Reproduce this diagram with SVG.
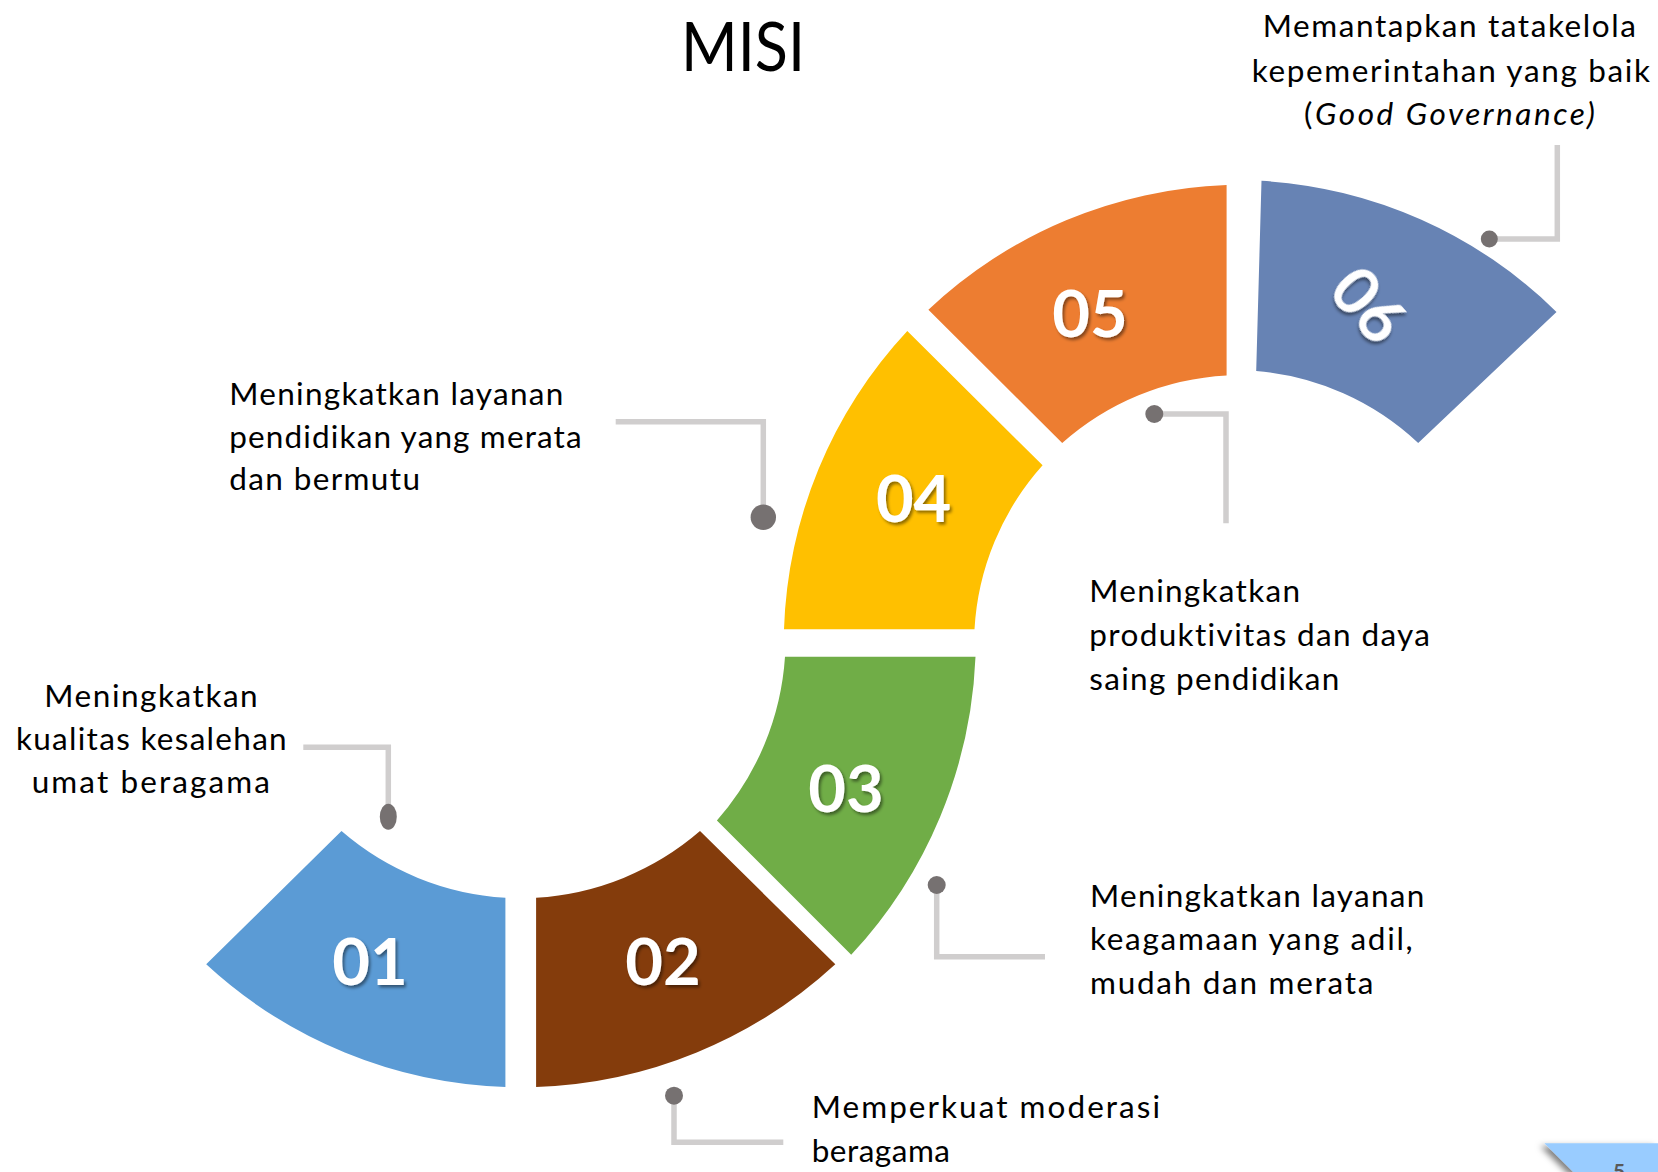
<svg xmlns="http://www.w3.org/2000/svg" width="1658" height="1172" viewBox="0 0 1658 1172">
<style>
.num{font-family:Lato,"Open Sans","Liberation Sans",sans-serif;font-weight:700;font-size:65px;fill:#fff;text-anchor:middle;filter:url(#ts)}
.lbl{font-family:Lato,"Open Sans","Liberation Sans",sans-serif;font-size:31.5px;fill:#000;font-variant-ligatures:none}
.ctr{text-anchor:middle}
.conn{fill:none;stroke:#D0CECE;stroke-width:5.5}
.dot{fill:#767171}
.title{font-family:Lato,"Open Sans","Liberation Sans",sans-serif;font-size:67px;fill:#000;text-anchor:middle}
</style>
<defs>
<filter id="ts" x="-20%" y="-20%" width="140%" height="140%">
<feDropShadow dx="2" dy="2.5" stdDeviation="1.5" flood-color="#000" flood-opacity="0.45"/>
</filter>
<filter id="bs" x="-20%" y="-50%" width="140%" height="200%">
<feDropShadow dx="-4" dy="3" stdDeviation="3" flood-color="#000" flood-opacity="0.5"/>
</filter>
</defs>
<rect width="1658" height="1172" fill="#fff"/>
<text class="title" x="743" y="70.7" textLength="124" lengthAdjust="spacingAndGlyphs">MISI</text>

<g id="n01">
<path d="M341.5,831.1 A275.5,275.5 0 0 0 505.4,897.7 L505.4,1087 A464.7,464.7 0 0 1 206.2,964.3 Z" fill="#5B9BD5"/>
<text class="num" x="370" y="985">01</text>
</g>
<g id="n02">
<path d="M536.1,897.7 A275.5,275.5 0 0 0 700,831.1 L835.3,964.3 A464.7,464.7 0 0 1 536.1,1087 Z" fill="#843C0C"/>
<text class="num" x="663" y="985">02</text>
</g>
<g id="n03">
<path d="M716.9,820.5 A275.5,275.5 0 0 0 785,656.7 L975.5,656.7 A464.7,464.7 0 0 1 851.2,954.8 Z" fill="#70AD47"/>
<text class="num" x="846" y="812">03</text>
</g>
<g id="n04">
<path d="M784,629.3 A458.9,458.9 0 0 1 907.3,331 L1042.6,465.3 A268.6,268.6 0 0 0 974.5,629.3 Z" fill="#FFC000"/>
<text class="num" x="913.6" y="522">04</text>
</g>
<g id="n05">
<path d="M928.4,309.8 A458.9,458.9 0 0 1 1226.6,185 L1226.6,375.4 A268.6,268.6 0 0 0 1062.2,443 Z" fill="#ED7D31"/>
<text class="num" x="1090" y="337">05</text>
</g>
<g id="n06">
<path d="M1261.5,180.8 A458.9,458.9 0 0 1 1556.5,311.9 L1418.2,443 A268.6,268.6 0 0 0 1256.2,371.1 Z" fill="#6783B4"/>
<text class="num" transform="translate(1369.3,304.5) rotate(48)" x="0" y="23.5">06</text>
</g>

<g id="connectors">
<polyline class="conn" points="303.3,747.3 388.3,747.3 388.3,810"/>
<ellipse class="dot" cx="388.3" cy="816.7" rx="8.5" ry="13"/>
<polyline class="conn" points="783.3,1142.3 674,1142.3 674,1096"/>
<circle class="dot" cx="674" cy="1095.7" r="9"/>
<polyline class="conn" points="1045,956.7 936.7,956.7 936.7,885"/>
<circle class="dot" cx="936.7" cy="885" r="9"/>
<polyline class="conn" points="615.7,421.7 763.3,421.7 763.3,517"/>
<circle class="dot" cx="763.3" cy="517.3" r="12.7"/>
<polyline class="conn" points="1226,523.3 1226,414 1154.3,414"/>
<circle class="dot" cx="1154.3" cy="414" r="9"/>
<polyline class="conn" points="1557.3,145 1557.3,239 1489.3,239"/>
<circle class="dot" cx="1489.3" cy="239" r="8.5"/>
</g>

<g id="t01" class="lbl">
<text class="ctr" x="151" y="706.7" textLength="213.4" lengthAdjust="spacing">Meningkatkan</text>
<text class="ctr" x="151.3" y="750" textLength="270.7" lengthAdjust="spacing">kualitas kesalehan</text>
<text class="ctr" x="150.8" y="793.3" textLength="238.3" lengthAdjust="spacing">umat beragama</text>
</g>
<g id="t02" class="lbl">
<text x="811.7" y="1118.3" textLength="348.3" lengthAdjust="spacing">Memperkuat moderasi</text>
<text x="811.7" y="1161.7" textLength="138.3" lengthAdjust="spacing">beragama</text>
</g>
<g id="t03" class="lbl">
<text x="1090" y="906.7" textLength="334.3" lengthAdjust="spacing">Meningkatkan layanan</text>
<text x="1090" y="950.3" textLength="322.7" lengthAdjust="spacing">keagamaan yang adil,</text>
<text x="1090" y="993.5" textLength="283.3" lengthAdjust="spacing">mudah dan merata</text>
</g>
<g id="t04" class="lbl">
<text x="229.3" y="405" textLength="334" lengthAdjust="spacing">Meningkatkan layanan</text>
<text x="229.3" y="447.5" textLength="352.4" lengthAdjust="spacing">pendidikan yang merata</text>
<text x="229.3" y="490" textLength="190.7" lengthAdjust="spacing">dan bermutu</text>
</g>
<g id="t05" class="lbl">
<text x="1089.3" y="601.7" textLength="210.7" lengthAdjust="spacing">Meningkatkan</text>
<text x="1089.3" y="646" textLength="340.7" lengthAdjust="spacing">produktivitas dan daya</text>
<text x="1089.3" y="690" textLength="250" lengthAdjust="spacing">saing pendidikan</text>
</g>
<g id="t06" class="lbl">
<text class="ctr" x="1449.3" y="37.3" textLength="373.3" lengthAdjust="spacing">Memantapkan tatakelola</text>
<text class="ctr" x="1450.8" y="81.7" textLength="398.3" lengthAdjust="spacing">kepemerintahan yang baik</text>
<text class="ctr" x="1449.5" y="125" textLength="291" lengthAdjust="spacing">(<tspan font-style="italic">Good Governance)</tspan></text>
</g>

<g id="pagenum">
<polygon points="1544.3,1143.3 1658,1143.3 1658,1172 1573.3,1172" fill="#99CCFF" filter="url(#bs)"/>
<text x="1613" y="1179" font-family="Lato,'Liberation Sans',sans-serif" font-weight="700" font-size="21" fill="#595959">5</text>
</g>
</svg>
